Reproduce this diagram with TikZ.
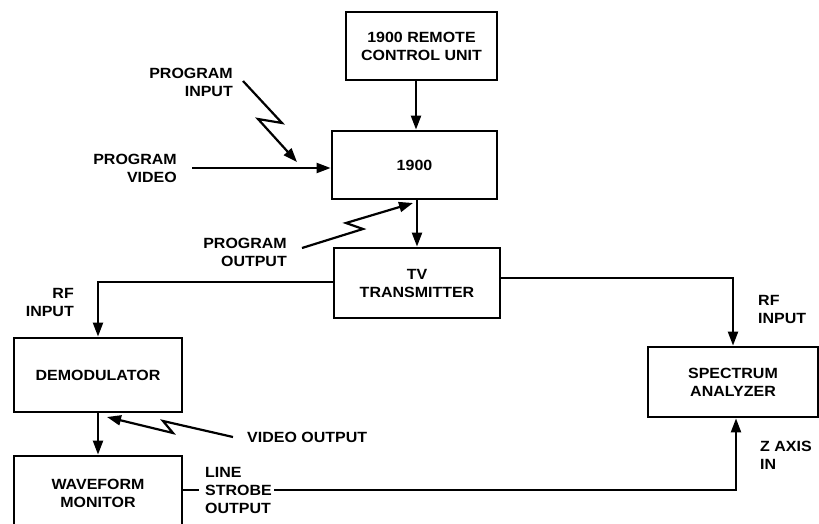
\documentclass[tikz,border=0pt]{standalone}
\usepackage{fontspec}
\setmainfont[FakeStretch=1.08]{Liberation Sans}
\usetikzlibrary{arrows.meta}
\begin{document}
\begin{tikzpicture}[x=1pt,y=-1pt,
  txt/.style={font=\bfseries\fontsize{14.8}{18}\selectfont},
  box/.style={draw, line width=2.8pt, inner sep=0pt, align=center, txt},
  lbl/.style={inner sep=0pt, txt},
  wire/.style={line width=2.2pt},
  conn/.style={line width=2.2pt, -{Triangle[length=14pt,width=10pt]}}]
\useasboundingbox (0,0) rectangle (819,524);
% boxes
\node[box, minimum width=151pt, minimum height=68pt] (remote) at (421.5,46) {1900 REMOTE\\CONTROL UNIT};
\node[box, minimum width=165pt, minimum height=68pt] (main) at (414.5,165) {1900};
\node[box, minimum width=166pt, minimum height=70pt] (tv) at (417,283) {TV\\TRANSMITTER};
\node[box, minimum width=168pt, minimum height=74pt] (demod) at (98,375) {DEMODULATOR};
\node[box, minimum width=170pt, minimum height=70pt] (spec) at (733,382) {SPECTRUM\\ANALYZER};
\node[box, minimum width=168pt, minimum height=74pt] (wf) at (98,493) {WAVEFORM\\MONITOR};
% labels
\node[lbl, align=right, anchor=east] (pin) at (233,82) {PROGRAM\\INPUT};
\node[lbl, align=right, anchor=east] (pvid) at (177,168) {PROGRAM\\VIDEO};
\node[lbl, align=right, anchor=east] (pout) at (287,252) {PROGRAM\\OUTPUT};
\node[lbl, align=right, anchor=east] (rfl) at (74,302) {RF\\INPUT};
\node[lbl, align=left, anchor=west] (rfr) at (758,309) {RF\\INPUT};
\node[lbl, align=left, anchor=west] (zax) at (760,455) {Z AXIS\\IN};
\node[lbl, align=left, anchor=west] (vout) at (247,437) {VIDEO OUTPUT};
\node[lbl, align=left, anchor=west] (lso) at (205,490) {LINE\\STROBE\\OUTPUT};
% straight connectors
\coordinate (xa) at (416,0);
\coordinate (xb) at (417,0);
\draw[conn] (remote.south -| xa) -- (main.north -| xa);
\draw[conn] (main.south -| xb) -- (tv.north -| xb);
\draw[conn] ([yshift=1pt]tv.west) -| (demod.north);
\draw[conn] ([yshift=5pt]tv.east) -| (spec.north);
\draw[conn] (demod.south) -- (wf.north);
\draw[conn] ([xshift=15pt]pvid.east) -- (main.west |- pvid.east);
\draw[wire] (wf.east |- lso.west) -- ([xshift=-6pt]lso.west);
\coordinate (xz) at (736,0);
\draw[conn] ([xshift=2pt]lso.east) -| (spec.south -| xz);
% lightning arrows
\coordinate (pi1) at (243,81);
\coordinate (pi2) at (282,123);
\coordinate (pi3) at (258,119);
\coordinate (pi4) at (297,162);
\draw[conn] (pi1) -- (pi2) -- (pi3) -- (pi4);
\coordinate (po1) at (302,248);
\coordinate (po2) at (363,229);
\coordinate (po3) at (346,223);
\coordinate (po4) at (413,203);
\draw[conn] (po1) -- (po2) -- (po3) -- (po4);
\coordinate (vo1) at (233,437);
\coordinate (vo2) at (163,421);
\coordinate (vo3) at (173,433);
\coordinate (vo4) at (107,417);
\draw[conn] (vo1) -- (vo2) -- (vo3) -- (vo4);
\end{tikzpicture}
\end{document}
